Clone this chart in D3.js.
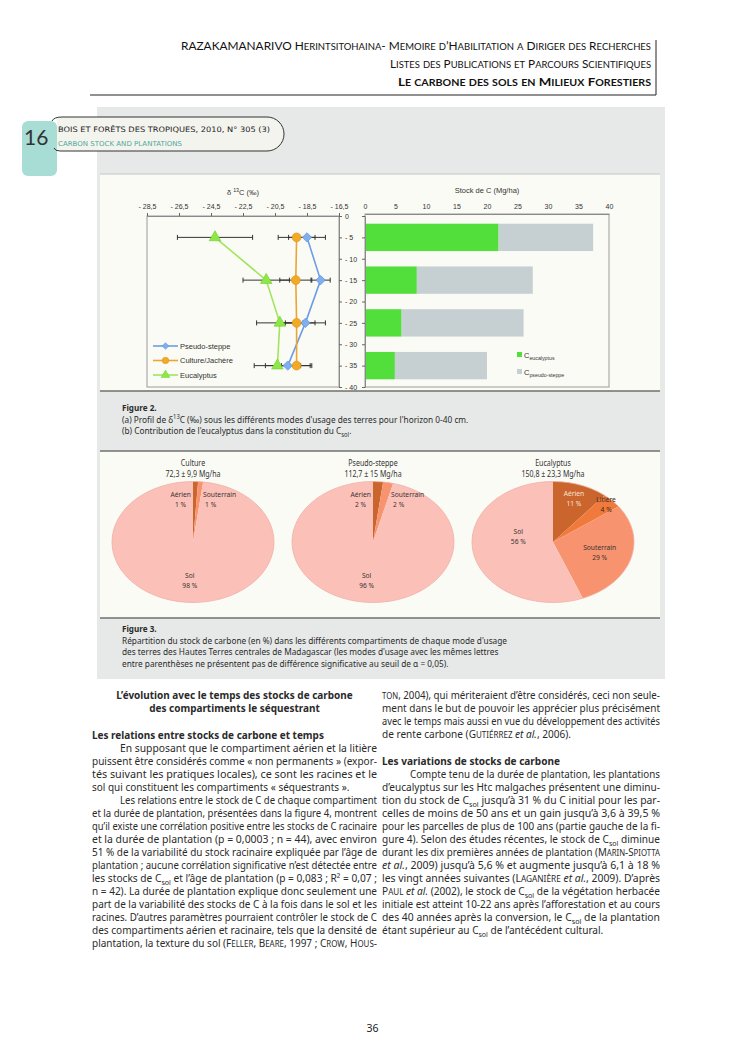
<!DOCTYPE html>
<html><head><meta charset="utf-8">
<script src="https://cdn.jsdelivr.net/npm/d3@7"></script>
<style>
html,body{margin:0;padding:0;background:#fff;}
svg{display:block;}
</style></head>
<body>
<svg id="page" width="745" height="1053"></svg>
<script>
// ---------- data : figure 2a (delta 13C profile) ----------
const depths = [-5, -15, -25, -35];
const deltaTicks = [-28.5, -26.5, -24.5, -22.5, -20.5, -18.5, -16.5];
const depthTicks = [0, -5, -10, -15, -20, -25, -30, -35, -40];
const seriesNames = ["Pseudo-steppe", "Culture/Jachère", "Eucalyptus"];
const deltaPseudo = [-18.5, -17.65, -18.6, -19.7];
const errPseudo = [1.15, 0.6, 1.25, 1.4];
const deltaCulture = [-19.15, -19.2, -19.15, -19.15];
const errCulture = [1.15, 1.0, 1.15, 0.95];
const deltaEucal = [-24.25, -21.05, -20.2, -20.35];
const errEucal = [2.35, 1.45, 1.45, 1.45];

// ---------- data : figure 2b (stock de C) ----------
const stockTicks = [0, 5, 10, 15, 20, 25, 30, 35, 40];
const stockEucal = [21.9, 8.5, 6.0, 4.9];
const stockPseudo = [15.5, 19.0, 20.0, 15.1];

// ---------- data : figure 3 (pies) ----------
const pieGroups = ["Culture", "Pseudo-steppe", "Eucalyptus"];
const pieTotals = ["72,3 ± 9,9 Mg/ha", "112,7 ± 15 Mg/ha", "150,8 ± 23,3 Mg/ha"];
const compartments = ["Aérien", "Litière", "Souterrain", "Sol"];
const shareCulture = [1, 0, 1, 98];
const sharePseudo = [2, 0, 2, 96];
const shareEucal = [11, 4, 29, 56];

// ---------- text ----------
const headerLines = [
  "RAZAKAMANARIVO <sc>Herintsitohaina- Memoire d’Habilitation a Diriger des Recherches</sc>",
  "<sc>Listes des Publications et Parcours Scientifiques</sc>",
  "<sc>Le carbone des sols en Milieux Forestiers</sc>"
];
const fig2Caption = [
  "(a) Profil de δ<sup>13</sup>C (‰) sous les différents modes d'usage des terres pour l'horizon 0-40 cm.",
  "(b) Contribution de l'eucalyptus dans la constitution du C<sub>sol</sub>."
];
const fig3Caption = [
  "Répartition du stock de carbone (en %) dans les différents compartiments de chaque mode d'usage",
  "des terres des Hautes Terres centrales de Madagascar (les modes d'usage avec les mêmes lettres",
  "entre parenthèses ne présentent pas de différence significative au seuil de α = 0,05)."
];
const leftLines = [
  ["h", "L’évolution avec le temps des stocks de carbone"],
  ["h", "des compartiments le séquestrant"],
  ["", ""],
  ["s", "Les relations entre stocks de carbone et temps"],
  ["pi", "En supposant que le compartiment aérien et la litière"],
  ["j", "puissent être considérés comme « non permanents » (expor-"],
  ["j", "tés suivant les pratiques locales), ce sont les racines et le"],
  ["l", "sol qui constituent les compartiments « séquestrants »."],
  ["pi", "Les relations entre le stock de C de chaque compartiment"],
  ["j", "et la durée de plantation, présentées dans la figure 4, montrent"],
  ["j", "qu’il existe une corrélation positive entre les stocks de C racinaire"],
  ["j", "et la durée de plantation (p = 0,0003 ; n = 44), avec environ"],
  ["j", "51 % de la variabilité du stock racinaire expliquée par l’âge de"],
  ["j", "plantation ; aucune corrélation significative n’est détectée entre"],
  ["j", "les stocks de C<sub>sol</sub> et l’âge de plantation (p = 0,083 ; R² = 0,07 ;"],
  ["j", "n = 42). La durée de plantation explique donc seulement une"],
  ["j", "part de la variabilité des stocks de C à la fois dans le sol et les"],
  ["j", "racines. D’autres paramètres pourraient contrôler le stock de C"],
  ["j", "des compartiments aérien et racinaire, tels que la densité de"],
  ["j", "plantation, la texture du sol (<sc>Feller, Beare</sc>, 1997 ; <sc>Crow, Hous</sc>-"]
];
const rightLines = [
  ["j", "<sc>ton</sc>, 2004), qui mériteraient d’être considérés, ceci non seule-"],
  ["j", "ment dans le but de pouvoir les apprécier plus précisément"],
  ["j", "avec le temps mais aussi en vue du développement des activités"],
  ["l", "de rente carbone (<sc>Gutiérrez</sc> <i>et al.</i>, 2006)."],
  ["", ""],
  ["s", "Les variations de stocks de carbone"],
  ["pi", "Compte tenu de la durée de plantation, les plantations"],
  ["j", "d’eucalyptus sur les Htc malgaches présentent une diminu-"],
  ["j", "tion du stock de C<sub>sol</sub> jusqu’à 31 % du C initial pour les par-"],
  ["j", "celles de moins de 50 ans et un gain jusqu’à 3,6 à 39,5 %"],
  ["j", "pour les parcelles de plus de 100 ans (partie gauche de la fi-"],
  ["j", "gure 4). Selon des études récentes, le stock de C<sub>sol</sub> diminue"],
  ["j", "durant les dix premières années de plantation (<sc>Marin-Spiotta</sc>"],
  ["j", "<i>et al.</i>, 2009) jusqu’à 5,6 % et augmente jusqu’à 6,1 à 18 %"],
  ["j", "les vingt années suivantes (<sc>Laganière</sc> <i>et al.</i>, 2009). D’après"],
  ["j", "<sc>Paul</sc> <i>et al.</i> (2002), le stock de C<sub>sol</sub> de la végétation herbacée"],
  ["j", "initiale est atteint 10-22 ans après l’afforestation et au cours"],
  ["j", "des 40 années après la conversion, le C<sub>sol</sub> de la plantation"],
  ["l", "étant supérieur au C<sub>sol</sub> de l’antécédent cultural."]
];

const BODY = "'Noto Sans', sans-serif";
const CHART = "'Liberation Sans', Arial, sans-serif";
const svg = d3.select("#page");

// builds a text line from a tiny markup (<sub>, <sup>, <sc>, <i>, <b>)
function rich(parent, markup, o) {
  const size = o.size || 10;
  const t = parent.append("text")
    .attr("y", o.y)
    .attr("font-family", o.family || BODY)
    .attr("font-size", size)
    .attr("fill", o.fill || "#2a2a2a");
  if (o.weight) t.attr("font-weight", o.weight);
  if (o.ls) t.attr("letter-spacing", o.ls);
  const on = {};
  let cur = 0;
  markup.split(/(<\/?(?:sub|sup|sc|i|b)>)/).forEach(p => {
    const m = p.match(/^<(\/?)(sub|sup|sc|i|b)>$/);
    if (m) { on[m[2]] = !m[1]; return; }
    if (!p) return;
    const sh = on.sub ? size * 0.28 : on.sup ? -size * 0.38 : 0;
    const fs = (on.sub || on.sup) ? size * 0.7 : size;
    const runs = on.sc ? p.match(/[a-zà-ÿœ]+|[^a-zà-ÿœ]+/g) : [p];
    runs.forEach(r => {
      const low = on.sc && /[a-zà-ÿœ]/.test(r[0]);
      const ts = t.append("tspan").text(low ? r.toUpperCase() : r);
      const f = low ? fs * 0.8 : fs;
      if (f !== size) ts.attr("font-size", f);
      if (sh !== cur) { ts.attr("dy", sh - cur); cur = sh; }
      if (on.i) ts.attr("font-style", "italic");
      if (on.b) ts.attr("font-weight", "bold");
    });
  });
  return { t: t, nat: t.node().getComputedTextLength() };
}
function place(r, len, x, anchor) {
  if (Math.abs(len - r.nat) > 0.3) r.t.attr("textLength", len).attr("lengthAdjust", "spacingAndGlyphs");
  r.t.attr("x", anchor === "middle" ? x - len / 2 : anchor === "end" ? x - len : x);
}
function line(parent, markup, o) {
  const r = rich(parent, markup, o);
  place(r, o.width || r.nat * (o.cond || 1), o.x, o.anchor || "start");
  return r;
}

// ---------- page header ----------
const head = svg.append("g");
const headRight = 651;
const headWidths = [470, 261, 253];
headerLines.forEach((h, i) => {
  line(head, h, { x: headRight, y: [50, 68, 86][i], size: 12, family: "Lato, sans-serif",
    weight: i === 2 ? "bold" : null, fill: "#111", anchor: "end", width: headWidths[i] });
});
head.append("line").attr("x1", 656).attr("x2", 656).attr("y1", 40).attr("y2", 95).attr("stroke", "#222");
head.append("line").attr("x1", 90).attr("x2", 656).attr("y1", 95).attr("y2", 95).attr("stroke", "#222");

// ---------- grey article panel ----------
svg.append("rect").attr("x", 97).attr("y", 107).attr("width", 568).attr("height", 572).attr("fill", "#e6e9e8");

// journal tab
svg.append("rect").attr("x", 22).attr("y", 121).attr("width", 35).attr("height", 55).attr("rx", 6).attr("fill", "#a7ddd5");
svg.append("path")
  .attr("d", "M57,117 L267,117 A17,17 0 0 1 267,151 L57,151 Z")
  .attr("fill", "#f4f4ef");
svg.append("path")
  .attr("d", "M52,121 Q54,117 62,117 L267,117 A17,17 0 0 1 267,151 L60,151 Q55,151 54,148")
  .attr("fill", "none").attr("stroke", "#333").attr("stroke-width", 1);
line(svg, "16", { x: 24, y: 145, size: 21, family: "Lato, sans-serif", fill: "#333" });
line(svg, "BOIS ET FORÊTS DES TROPIQUES, 2010, N° 305 (3)", { x: 58, y: 132, size: 7.5,
  family: "'DejaVu Sans', sans-serif", fill: "#222", width: 212 });
line(svg, "CARBON STOCK AND PLANTATIONS", { x: 58, y: 146, size: 6.8,
  family: "'DejaVu Sans', sans-serif", fill: "#4fa89b", width: 124 });

// ---------- figure 2 panel ----------
svg.append("rect").attr("x", 100).attr("y", 174).attr("width", 560).attr("height", 217).attr("fill", "#fbfbf6");
svg.append("line").attr("x1", 100).attr("x2", 660).attr("y1", 174).attr("y2", 174).attr("stroke", "#c4c6c4");
svg.append("line").attr("x1", 100).attr("x2", 660).attr("y1", 391).attr("y2", 391).attr("stroke", "#6f706e").attr("stroke-width", 1.5);

const y = d3.scaleLinear().domain([0, -40]).range([216, 387]);
const x = d3.scaleLinear().domain([-28.5, -16.5]).range([147, 339]);
const xs = d3.scaleLinear().domain([0, 40]).range([365, 609]);

const negFmt = v => v === 0 ? "0" : "- " + d3.format(".1f")(-v).replace(".", ",");
const depthFmt = v => v === 0 ? "0" : "- " + (-v);

function styleAxis(g) {
  g.select(".domain").attr("stroke", "#8a8a8a");
  g.selectAll(".tick line").attr("stroke", "#666");
  g.selectAll(".tick text").attr("font-family", CHART).attr("font-size", 7).attr("fill", "#333");
}

// 2a frame and axes
const ga = svg.append("g");
ga.append("rect").attr("x", x.range()[0]).attr("y", y.range()[0])
  .attr("width", x.range()[1] - x.range()[0]).attr("height", y.range()[1] - y.range()[0])
  .attr("fill", "none").attr("stroke", "#9a9a9a");
ga.append("g").attr("transform", `translate(0,${y(0)})`)
  .call(d3.axisTop(x).tickValues(deltaTicks).tickSize(3).tickPadding(4).tickFormat(negFmt))
  .call(styleAxis);
ga.append("g").attr("transform", `translate(${x.range()[1]},0)`)
  .call(d3.axisRight(y).tickValues(depthTicks).tickSize(3).tickPadding(3).tickFormat(depthFmt))
  .call(styleAxis);
line(ga, "δ <sup>13</sup>C (‰)", { x: 243, y: 195, size: 7.5, family: CHART, fill: "#333", anchor: "middle" });

const series = [
  { name: seriesNames[0], v: deltaPseudo, e: errPseudo, stroke: "#6d9de6", fill: "#7eb0f0", edge: "#5a8bd6", sym: "diamond" },
  { name: seriesNames[1], v: deltaCulture, e: errCulture, stroke: "#eba535", fill: "#f2a925", edge: "#dc9420", sym: "circle" },
  { name: seriesNames[2], v: deltaEucal, e: errEucal, stroke: "#9fe65e", fill: "#8de846", edge: "#6fcf30", sym: "triangle" }
];
const symbolOf = s => s === "diamond" ? d3.symbol(d3.symbolSquare, 44)
  : s === "circle" ? d3.symbol(d3.symbolCircle, 62) : d3.symbol(d3.symbolTriangle, 58);

series.forEach(s => {
  const pts = depths.map((d, i) => ({ d: d, v: s.v[i], e: s.e[i] }));
  const eb = ga.append("g").attr("stroke", "#333").attr("stroke-width", 1);
  pts.forEach(p => {
    eb.append("line").attr("x1", x(p.v - p.e)).attr("x2", x(p.v + p.e)).attr("y1", y(p.d)).attr("y2", y(p.d));
    [p.v - p.e, p.v + p.e].forEach(v => eb.append("line").attr("x1", x(v)).attr("x2", x(v))
      .attr("y1", y(p.d) - 2.5).attr("y2", y(p.d) + 2.5));
  });
  s.pts = pts;
});
series.forEach(s => {
  ga.append("path").datum(s.pts)
    .attr("d", d3.line().x(p => x(p.v)).y(p => y(p.d)))
    .attr("fill", "none").attr("stroke", s.stroke).attr("stroke-width", 1.6);
});
series.forEach(s => {
  ga.selectAll(null).data(s.pts).enter().append("path")
    .attr("d", symbolOf(s.sym))
    .attr("transform", p => `translate(${x(p.v)},${y(p.d)})` + (s.sym === "diamond" ? " rotate(45)" : ""))
    .attr("fill", s.fill).attr("stroke", s.edge).attr("stroke-width", 0.6);
});
// legend 2a
series.forEach((s, i) => {
  const ly = 346 + i * 14.5;
  ga.append("line").attr("x1", 153).attr("x2", 178).attr("y1", ly).attr("y2", ly)
    .attr("stroke", s.stroke).attr("stroke-width", 1.6);
  ga.append("path").attr("d", s.sym === "diamond" ? d3.symbol(d3.symbolSquare, 22)() : s.sym === "circle"
      ? d3.symbol(d3.symbolCircle, 34)() : d3.symbol(d3.symbolTriangle, 32)())
    .attr("transform", `translate(165.5,${ly})` + (s.sym === "diamond" ? " rotate(45)" : ""))
    .attr("fill", s.fill).attr("stroke", s.edge).attr("stroke-width", 0.5);
  line(ga, s.name, { x: 180, y: ly + 2.6, size: 7.5, family: CHART, fill: "#333" });
});

// 2b stacked bars
const gb = svg.append("g");
gb.append("rect").attr("x", xs.range()[0]).attr("y", 214)
  .attr("width", xs.range()[1] - xs.range()[0]).attr("height", y.range()[1] - 214)
  .attr("fill", "none").attr("stroke", "#9a9a9a");
const rows = depths.map((d, i) => ({ depth: d, eucal: stockEucal[i], pseudo: stockPseudo[i] }));
const stack = d3.stack().keys(["eucal", "pseudo"])(rows);
const barColor = { eucal: "#52df3c", pseudo: "#c6d0d3" };
stack.forEach(layer => {
  gb.selectAll(null).data(layer).enter().append("rect")
    .attr("x", d => xs(d[0]))
    .attr("width", d => xs(d[1]) - xs(d[0]))
    .attr("y", d => y(d.data.depth + 3.2))
    .attr("height", d => y(d.data.depth - 3.2) - y(d.data.depth + 3.2))
    .attr("fill", barColor[layer.key]);
});
gb.append("g").attr("transform", `translate(0,214)`)
  .call(d3.axisTop(xs).tickValues(stockTicks).tickSize(0).tickPadding(5).tickFormat(d3.format("d")))
  .call(styleAxis);
gb.append("g").attr("transform", `translate(${xs(0)},0)`)
  .call(d3.axisLeft(y).tickValues(depthTicks).tickSize(3).tickFormat(""))
  .call(styleAxis);
line(gb, "Stock de C (Mg/ha)", { x: 487, y: 193, size: 7.5, family: CHART, fill: "#333", anchor: "middle" });
[["eucal", "C<sub>eucalyptus</sub>"], ["pseudo", "C<sub>pseudo-steppe</sub>"]].forEach((l, i) => {
  const ly = 355 + i * 17;
  gb.append("rect").attr("x", 517).attr("y", ly - 3).attr("width", 5).attr("height", 5).attr("fill", barColor[l[0]]);
  line(gb, l[1], { x: 524, y: ly + 2.5, size: 7.5, family: CHART, fill: "#333" });
});

// figure 2 caption
const capColor = "#2b2b2b";
line(svg, "Figure 2.", { x: 122, y: 411, size: 9, weight: "bold", fill: capColor, cond: 0.9 });
let capRef = null;
{
  const probe = rich(svg, fig3Caption[0], { x: 0, y: -50, size: 9 });
  capRef = 385 / probe.nat;
  probe.t.remove();
}
fig2Caption.forEach((c, i) => line(svg, c, { x: 122, y: 422.5 + i * 11.5, size: 9, fill: capColor, cond: capRef }));

// ---------- figure 3 panel ----------
svg.append("rect").attr("x", 100).attr("y", 451).attr("width", 560).attr("height", 167).attr("fill", "#fbfbf6");
svg.append("line").attr("x1", 100).attr("x2", 660).attr("y1", 451).attr("y2", 451).attr("stroke", "#6f706e").attr("stroke-width", 1.5);
svg.append("line").attr("x1", 100).attr("x2", 660).attr("y1", 618).attr("y2", 618).attr("stroke", "#6f706e").attr("stroke-width", 1.5);

const cxs = d3.scalePoint().domain(pieGroups).range([193, 553]);
const cy = 542, rx = 81, ry = 60.5;
const pieColor = d3.scaleOrdinal().domain(compartments).range(["#c9652d", "#ef7a3c", "#f7936f", "#fbc1b9"]);
const pie = d3.pie().sort(null).value(d => d.v);
const arc = d3.arc().innerRadius(0).outerRadius(rx);
// label placement: radius factor and angle shift (radians) for each compartment
const labelK = { "Aérien": 0.76, "Litière": 0.9, "Souterrain": 0.6, "Sol": 0.63 };
const labelFill = { "Aérien": "#3a3330", "Litière": "#3a2a20", "Souterrain": "#3a3330", "Sol": "#3a3330" };
[shareCulture, sharePseudo, shareEucal].forEach((shares, gi) => {
  const name = pieGroups[gi], cx = cxs(name);
  const arcs = pie(compartments.map((c, i) => ({ c: c, v: shares[i] })));
  const g = svg.append("g");
  g.append("g").attr("transform", `translate(${cx},${cy}) scale(1,${ry / rx})`)
    .selectAll("path").data(arcs).enter().append("path")
    .attr("d", arc).attr("fill", d => pieColor(d.data.c));
  g.append("ellipse").attr("cx", cx).attr("cy", cy).attr("rx", rx).attr("ry", ry)
    .attr("fill", "none").attr("stroke", "#efb0a6").attr("stroke-width", 0.8);
  line(g, name, { x: cx, y: 466, size: 8, fill: "#333", anchor: "middle", cond: 0.88 });
  line(g, pieTotals[gi], { x: cx, y: 477, size: 8, fill: "#333", anchor: "middle", cond: 0.88 });
  arcs.forEach((a, ai) => {
    if (a.data.v === 0) return;
    const pct = a.data.v + " %";
    let lx, lc, anchor = "middle";
    const fill = (name === "Eucalyptus" && a.data.c === "Aérien") ? "#fbe3d6" : labelFill[a.data.c];
    if (a.data.v < 3) {
      // thin slices at the top: label beside the slit
      const left = ai === 0;
      const ang = left ? a.startAngle : a.endAngle;
      lx = cx + Math.sin(ang) * rx * 0.8 + (left ? -2 : 2);
      lc = cy - ry * 0.74 + 2.3;
      anchor = left ? "end" : "start";
    } else {
      let mid = (a.startAngle + a.endAngle) / 2, k = labelK[a.data.c];
      if (a.data.c === "Sol" && a.data.v < 80) { mid += 0.42; k = 0.44; }
      lx = cx + Math.sin(mid) * rx * k;
      lc = cy - Math.cos(mid) * ry * k;
    }
    line(g, a.data.c, { x: lx, y: lc - 2.3, size: 7.6, fill: fill, anchor: anchor, cond: 0.88 });
    line(g, pct, { x: anchor === "end" ? lx - 5 : anchor === "start" ? lx + 2 : lx, y: lc + 7.7, size: 7.6,
      fill: fill, anchor: anchor, cond: 0.88 });
  });
});

// figure 3 caption
line(svg, "Figure 3.", { x: 122, y: 632, size: 9, weight: "bold", fill: capColor, cond: 0.9 });
fig3Caption.forEach((c, i) => line(svg, c, { x: 122, y: 644 + i * 11.3, size: 9, fill: capColor, cond: capRef }));

// ---------- body text in two columns ----------
function column(lines, colX, colW, y0) {
  const g = svg.append("g");
  let yy = y0;
  const pending = [];
  const factors = [];
  lines.forEach(([k, txt]) => {
    if (!k) { yy += 14; return; }
    const bold = k === "h" || k === "s";
    const r = rich(g, txt, { x: colX, y: yy, size: 10.5, weight: bold ? "bold" : null });
    if (k === "j" || k === "pi") {
      const ind = k === "pi" ? 28 : 0;
      place(r, colW - ind, colX + ind, "start");
      factors.push((colW - ind) / r.nat);
    } else {
      pending.push({ r: r, k: k });
    }
    yy += 13;
  });
  const f = d3.mean(factors);
  pending.forEach(p => {
    if (p.k === "h") place(p.r, p.r.nat * f, colX + colW / 2, "middle");
    else place(p.r, p.r.nat * f, colX, "start");
  });
}
column(leftLines, 92, 285, 699);
column(rightLines, 382, 278, 699);

// page number
line(svg, "36", { x: 372.5, y: 1032, size: 10.5, fill: "#222", anchor: "middle" });
</script>
</body></html>
